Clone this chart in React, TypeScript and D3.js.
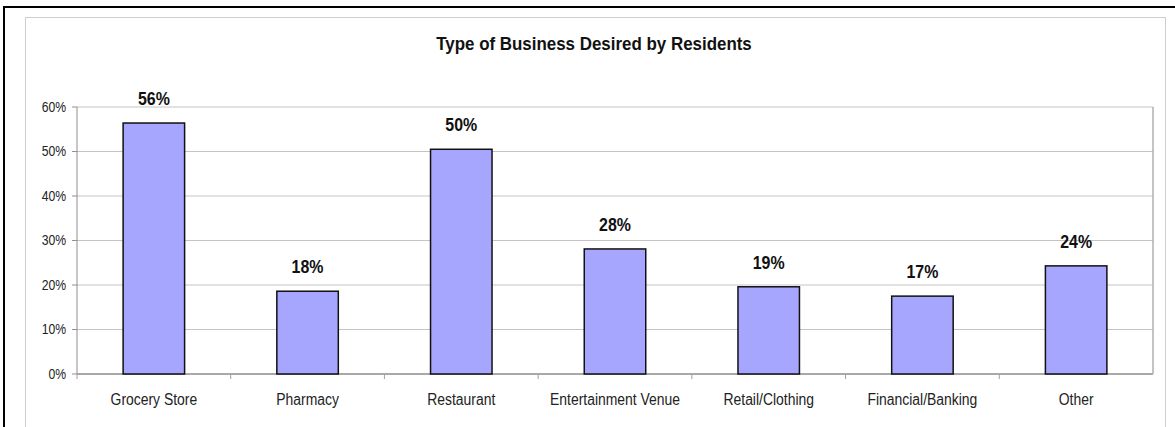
import React from "react";
import * as d3 from "d3";

const categories = ["Grocery Store", "Pharmacy", "Restaurant", "Entertainment Venue", "Retail/Clothing", "Financial/Banking", "Other"];
const values = [56.4, 18.6, 50.5, 28.1, 19.6, 17.5, 24.3];
const valueLabels = ["56%", "18%", "50%", "28%", "19%", "17%", "24%"];
const yTicks = [0, 10, 20, 30, 40, 50, 60];
const title = "Type of Business Desired by Residents";

const W = 1175, H = 427;
const plot = { left: 77, right: 1153, top: 107, bottom: 374 };
const font = "'Liberation Sans', Arial, sans-serif";

function NText(props: { x: number; y: number; sx: number; size: number; anchor: string; bold?: boolean; fill?: string; dy?: string; children: React.ReactNode }) {
  return (
    <text transform={`translate(${props.x},${props.y}) scale(${props.sx},1)`} textAnchor={props.anchor} fontSize={props.size}
      fontWeight={props.bold ? "bold" : "normal"} fill={props.fill || "#1a1a1a"} dy={props.dy}>
      {props.children}
    </text>
  );
}

export default function App() {
  const x = d3.scaleBand<string>().domain(categories).range([plot.left, plot.right]).paddingInner(0.6).paddingOuter(0.3);
  const y = d3.scaleLinear().domain([0, 60]).range([plot.bottom, plot.top]);
  const bw = (plot.right - plot.left) / categories.length;
  const bandStart = (i: number) => plot.left + bw * i;
  return (
    <svg width={W} height={H} style={{ position: "absolute", left: 0, top: 0 }} fontFamily={font}>
      <rect x={0} y={0} width={W} height={H} fill="#fff" />
      <rect x={25.5} y={17.5} width={1140} height={430} fill="none" stroke="#cfcfcf" strokeWidth={1} />
      <line x1={4} y1={7} x2={W} y2={7} stroke="#000" strokeWidth={2} />
      <line x1={4} y1={6} x2={4} y2={H} stroke="#000" strokeWidth={2} />
      <NText x={594} y={50} sx={0.915} size={18.5} anchor="middle" bold fill="#111">{title}</NText>
      {yTicks.map((t) => (
        <line key={"g" + t} x1={plot.left} x2={plot.right} y1={y(t)} y2={y(t)} stroke={t === 0 ? "#8c8c8c" : "#c4c4c4"} strokeWidth={t === 0 ? 1.5 : 1} />
      ))}
      <line x1={plot.right} x2={plot.right} y1={plot.top} y2={plot.bottom} stroke="#b0b0b0" strokeWidth={1.5} />
      <line x1={plot.left} x2={plot.left} y1={plot.top} y2={plot.bottom} stroke="#909090" strokeWidth={1} />
      {yTicks.map((t) => (
        <g key={"t" + t}>
          <line x1={plot.left - 5} x2={plot.left} y1={y(t)} y2={y(t)} stroke="#909090" />
          <NText x={plot.left - 11} y={y(t)} dy="0.35em" sx={0.87} size={14} anchor="end" fill="#222">{t + "%"}</NText>
        </g>
      ))}
      {categories.map((c, i) => (
        <line key={"xt" + i} x1={bandStart(i)} x2={bandStart(i)} y1={plot.bottom} y2={plot.bottom + 5} stroke="#a0a0a0" />
      ))}
      {categories.map((c, i) => {
        const cx = x(c)! + x.bandwidth() / 2;
        const top = y(values[i]);
        return (
          <g key={c}>
            <rect x={x(c)!} y={top} width={x.bandwidth()} height={plot.bottom - top} fill="#a6a6ff" stroke="#111" strokeWidth={1.5} />
            <NText x={cx} y={top - 18} sx={0.84} size={19} anchor="middle" bold fill="#111">{valueLabels[i]}</NText>
            <NText x={cx} y={405} sx={0.87} size={16} anchor="middle" fill="#222">{c}</NText>
          </g>
        );
      })}
    </svg>
  );
}
